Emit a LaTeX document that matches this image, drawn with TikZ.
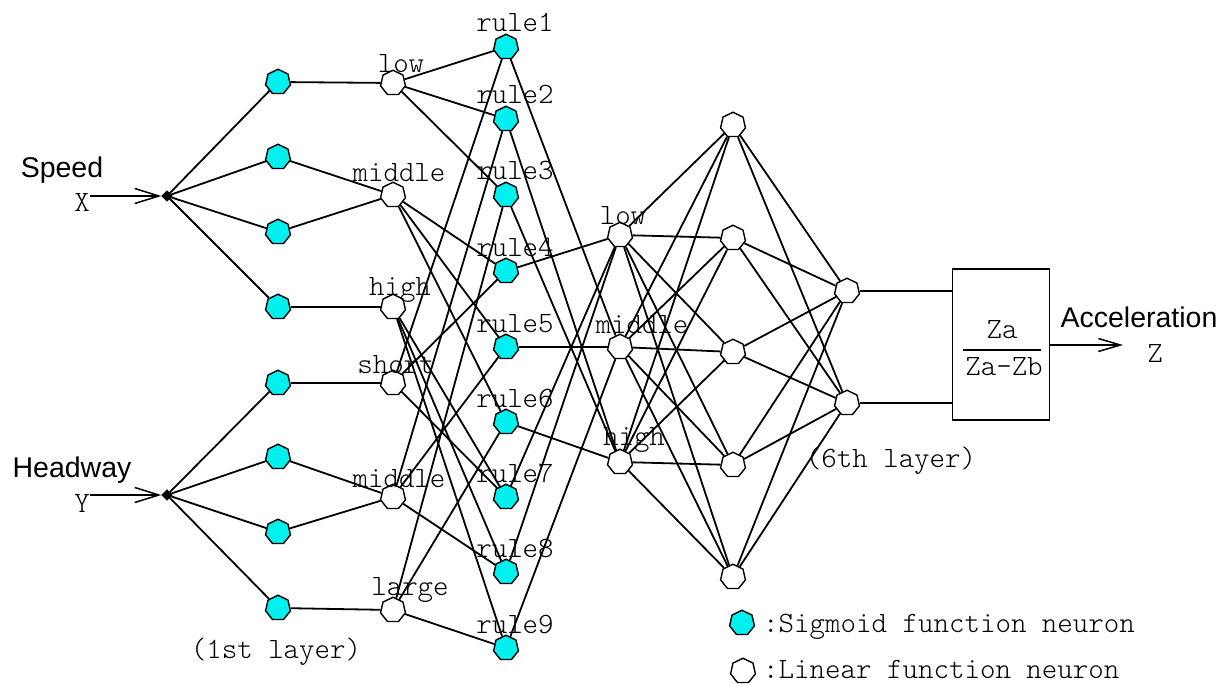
\documentclass[tikz,border=0pt]{standalone}
\usepackage{fontspec}
\newfontfamily\arialfont{Liberation Sans}
\usetikzlibrary{shapes.geometric,arrows.meta}
\definecolor{neuron}{RGB}{0,240,240}
\newcommand{\labfont}{\fontsize{29.5bp}{32bp}\ttfamily\fontseries{l}\selectfont}
\newcommand{\sansfnt}{\fontsize{28.5bp}{32bp}\selectfont\arialfont}
\tikzset{
  sig/.style={regular polygon, regular polygon sides=7, minimum size=25.5bp, inner sep=0pt, draw, line width=1.4bp, fill=neuron},
  lin/.style={regular polygon, regular polygon sides=7, minimum size=25.5bp, inner sep=0pt, draw, line width=1.4bp, fill=white},
  junc/.style={diamond, fill=black, draw, inner sep=0pt, minimum size=11bp},
  conn/.style={line width=1.8bp},
  inarrow/.style={line width=1.5bp, -{Straight Barb[length=24bp,width=15bp,line width=1.5bp]}},
  lab/.style={font=\labfont, anchor=base, inner sep=0pt},
  sans/.style={font=\sansfnt, anchor=base, inner sep=0pt},
  boxstyle/.style={draw, line width=1.8bp, minimum width=97bp, minimum height=151bp, inner sep=0pt}
}
\begin{document}
\begin{tikzpicture}[x=1bp,y=-1bp]
\useasboundingbox (0,0) rectangle (1231,684);
% inputs
\node[sans] (speed) at (62,178) {Speed};
\node[lab] (X) at (82,212) {X};
\node[sans] (headway) at (72,477) {Headway};
\node[lab] (Y) at (82,512) {Y};
\node[junc] (sj) at (167,196) {};
\node[junc] (hj) at (167,495) {};
\coordinate (xs) at (90,196);
\coordinate (ys) at (90,495);
\draw[inarrow] (xs) -- (sj.west);
\draw[inarrow] (ys) -- (hj.west);
% layer 1
\foreach \n/\y in {s1/82,s2/157,s3/232,s4/307,h1/383,h2/457,h3/532,h4/608}
  \node[sig] (\n) at (278,\y) {};
% layer 2
\foreach \n/\y in {low/83,smid/195,high/307,short/383,hmid/497,large/610}
  \node[lin] (\n) at (393,\y) {};
\node[lab] at (401,73) {low};
\node[lab] at (399,182) {middle};
\node[lab] at (400,295) {high};
\node[lab] at (396,373) {short};
\node[lab] at (399,487) {middle};
\node[lab] at (410,595) {large};
% rules
\foreach \i/\y in {1/47,2/119,3/195,4/271,5/347,6/422,7/497,8/572,9/648}{
  \node[sig] (r\i) at (506,\y) {};
  \node[lab] at (515,\y-15) {rule\i};
}
% layer 4
\node[lin] (olow) at (620,235) {};
\node[lin] (omid) at (620,347) {};
\node[lin] (ohigh) at (620,462) {};
\node[lab] at (623,225) {low};
\node[lab] at (642,333) {middle};
\node[lab] at (634,445) {high};
% layer 5
\foreach \i/\y in {1/125,2/238,3/352,4/465,5/577}
  \node[lin] (p\i) at (733,\y) {};
% layer 6
\node[lin] (q1) at (847,291) {};
\node[lin] (q2) at (847,403) {};
% box
\node[boxstyle] (box) at (1001,344.5) {};
\node[lab] (za) at (1002,338) {Za};
\node[lab] (zazb) at (1004,375) {Za-Zb};
\draw[line width=1.8bp] (963,350) -- (1041,350);
\node[sans] (acc) at (1139,327) {Acceleration};
\node[lab] (Z) at (1155,362) {Z};
\coordinate (zend) at (1123,345);
% layer labels
\node[lab] at (276,658) {(1st layer)};
\node[lab] at (891,467) {(6th layer)};
% legend
\node[sig] (leg1) at (742,623) {};
\node[lin] (leg2) at (743,671) {};
\node[lab, anchor=base west] at (763,632) {:Sigmoid function neuron};
\node[lab, anchor=base west] at (763,678) {:Linear function neuron};
% connections
\begin{scope}[conn]
\foreach \n in {s1,s2,s3,s4} \draw (sj) -- (\n);
\foreach \n in {h1,h2,h3,h4} \draw (hj) -- (\n);
\draw (s1) -- (low); \draw (s2) -- (smid); \draw (s3) -- (smid); \draw (s4) -- (high);
\draw (h1) -- (short); \draw (h2) -- (hmid); \draw (h3) -- (hmid); \draw (h4) -- (large);
\foreach \r in {1,2,3} \draw (low) -- (r\r);
\foreach \r in {4,5,6} \draw (smid) -- (r\r);
\foreach \r in {7,8,9} \draw (high) -- (r\r);
\foreach \r in {1,4,7} \draw (short) -- (r\r);
\foreach \r in {2,5,8} \draw (hmid) -- (r\r);
\foreach \r in {3,6,9} \draw (large) -- (r\r);
\foreach \r in {4,7,8} \draw (r\r) -- (olow);
\foreach \r in {1,5,9} \draw (r\r) -- (omid);
\foreach \r in {2,3,6} \draw (r\r) -- (ohigh);
\foreach \a in {olow,omid,ohigh} \foreach \b in {p1,p2,p3,p4,p5} \draw (\a) -- (\b);
\foreach \a in {p1,p2,p3,p4,p5} \foreach \b in {q1,q2} \draw (\a) -- (\b);
\draw (q1) -- (q1 -| box.west);
\draw (q2) -- (q2 -| box.west);
\end{scope}
\draw[line width=1.5bp, -{Straight Barb[length=22bp,width=13bp,line width=1.5bp]}] (box.east |- zend) -- (zend);
\end{tikzpicture}
\end{document}
